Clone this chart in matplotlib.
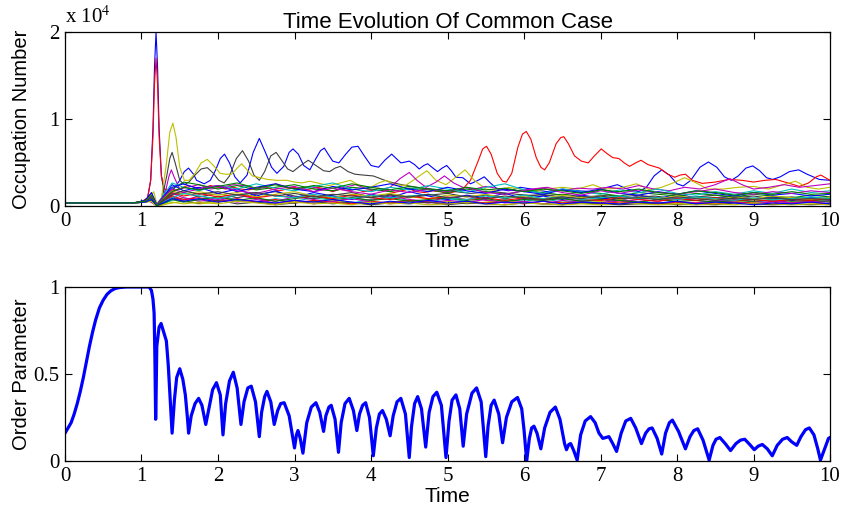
import matplotlib
matplotlib.use('Agg')
import matplotlib.pyplot as plt

plt.rcParams['mathtext.fontset'] = 'stix'

# MATLAB default line colours
MCOL = {'b': (0, 0, 1), 'g': (0, 0.5, 0), 'r': (1, 0, 0), 'c': (0, 0.75, 0.75),
        'm': (0.75, 0, 0.75), 'y': (0.75, 0.75, 0), 'k': (0.25, 0.25, 0.25)}

# ---------------- top panel: occupation numbers (units of 1e4) ----------------
blue_t = [0, 0.9, 1.0, 1.08, 1.12, 1.15, 1.17, 1.19, 1.21, 1.23, 1.26, 1.3, 1.35, 1.42, 1.5, 1.56,
          1.615, 1.68, 1.72, 1.82, 1.9, 1.97, 2.03, 2.085, 2.15, 2.22, 2.29, 2.38, 2.46, 2.54, 2.62,
          2.7, 2.77, 2.86, 2.93, 2.98, 3.05, 3.12, 3.2, 3.28, 3.34, 3.39, 3.44, 3.5, 3.58, 3.67,
          3.75, 3.83, 3.92, 4.0, 4.1, 4.18, 4.27, 4.33, 4.39, 4.45, 4.5, 4.57, 4.63, 4.69, 4.74,
          4.81, 4.87, 4.93, 4.99, 5.05, 5.11, 5.2, 5.3, 5.4, 5.48, 5.56, 5.65, 5.8, 5.95, 6.1, 6.3,
          6.5, 6.7, 6.9, 7.05, 7.22, 7.35, 7.5, 7.6, 7.7, 7.8, 7.9, 8.0, 8.08, 8.18, 8.3, 8.41,
          8.52, 8.62, 8.71, 8.8, 8.9, 8.99, 9.08, 9.17, 9.25, 9.35, 9.47, 9.59, 9.7, 9.86, 10.0]
blue_v = [0.04, 0.042, 0.05, 0.1, 0.3, 0.9, 1.6, 2.0, 1.6, 0.9, 0.35, 0.15, 0.12, 0.2, 0.3, 0.4,
          0.44, 0.37, 0.3, 0.26, 0.3, 0.42, 0.55, 0.6, 0.5, 0.34, 0.27, 0.36, 0.62, 0.78, 0.62,
          0.45, 0.38, 0.46, 0.62, 0.66, 0.6, 0.47, 0.42, 0.55, 0.64, 0.67, 0.6, 0.52, 0.5, 0.6,
          0.68, 0.69, 0.57, 0.47, 0.45, 0.53, 0.6, 0.55, 0.5, 0.51, 0.52, 0.48, 0.43, 0.47, 0.49,
          0.44, 0.4, 0.44, 0.47, 0.41, 0.335, 0.33, 0.26, 0.3, 0.34, 0.27, 0.2, 0.18, 0.22, 0.2, 0.17,
          0.2, 0.18, 0.17, 0.21, 0.25, 0.2, 0.17, 0.22, 0.35, 0.42, 0.36, 0.26, 0.235, 0.3, 0.45, 0.51,
          0.45, 0.34, 0.3, 0.35, 0.44, 0.465, 0.41, 0.33, 0.31, 0.34, 0.4, 0.42, 0.37, 0.31, 0.3]

red_t = [0, 0.9, 1.0, 1.08, 1.12, 1.15, 1.17, 1.19, 1.21, 1.23, 1.26, 1.3, 1.4, 1.5, 1.6, 1.7,
         1.8, 1.9, 2.0, 2.1, 2.2, 2.3, 2.4, 2.5, 2.6, 2.7, 2.8, 2.9, 3.0, 3.1, 3.2, 3.3, 3.4, 3.5,
         3.6, 3.7, 3.8, 3.9, 4.0, 4.1, 4.2, 4.3, 4.4, 4.5, 4.6, 4.7, 4.8, 4.9, 5.0, 5.1, 5.2, 5.3,
         5.4, 5.46, 5.51, 5.57, 5.65, 5.72, 5.77, 5.84, 5.92, 5.98, 6.03, 6.09, 6.16, 6.22, 6.27,
         6.33, 6.42, 6.48, 6.52, 6.58, 6.66, 6.75, 6.84, 6.92, 7.01, 7.08, 7.16, 7.24, 7.31, 7.38,
         7.46, 7.53, 7.62, 7.77, 7.88, 7.97, 8.04, 8.11, 8.2, 8.33, 8.5, 8.68, 8.85, 9.0, 9.15,
         9.29, 9.45, 9.6, 9.72, 9.82, 9.88, 9.94, 10.0]
red_v = [0.04, 0.042, 0.05, 0.1, 0.3, 0.8, 1.4, 1.7, 1.4, 0.8, 0.35, 0.2, 0.18, 0.2, 0.24, 0.22,
         0.21, 0.24, 0.22, 0.2, 0.22, 0.2, 0.19, 0.21, 0.23, 0.2, 0.18, 0.2, 0.22, 0.19, 0.2, 0.22,
         0.2, 0.17, 0.2, 0.18, 0.2, 0.17, 0.18, 0.21, 0.18, 0.16, 0.18, 0.2, 0.17, 0.16, 0.18, 0.17,
         0.15, 0.17, 0.2, 0.3, 0.52, 0.66, 0.69, 0.6, 0.38, 0.29, 0.28, 0.38, 0.68, 0.83, 0.86, 0.77,
         0.56, 0.45, 0.42, 0.5, 0.72, 0.79, 0.8, 0.72, 0.58, 0.52, 0.5, 0.58, 0.66, 0.61, 0.56, 0.55,
         0.5, 0.46, 0.5, 0.53, 0.48, 0.44, 0.37, 0.335, 0.36, 0.37, 0.3, 0.265, 0.28, 0.31, 0.3, 0.28,
         0.3, 0.31, 0.27, 0.23, 0.27, 0.34, 0.36, 0.33, 0.3]

black_t = [0, 0.9, 1.05, 1.15, 1.2, 1.27, 1.33, 1.37, 1.4, 1.44, 1.5, 1.56, 1.62, 1.7, 1.78, 1.86,
           1.94, 2.01, 2.08, 2.15, 2.24, 2.32, 2.4, 2.47, 2.54, 2.61, 2.69, 2.76, 2.84, 2.91, 2.98,
           3.08, 3.18, 3.28, 3.38, 3.46, 3.53, 3.6, 3.7, 3.79, 3.9, 4.03, 4.15, 4.25, 4.4, 4.6, 4.8,
           5.0, 5.3, 5.6, 5.9, 6.2, 6.5, 6.8, 7.1, 7.4, 7.7, 8.0, 8.3, 8.6, 8.9, 9.2, 9.5, 9.8, 10.0]
black_v = [0.04, 0.042, 0.05, 0.1, 0.02, 0.1, 0.35, 0.55, 0.62, 0.5, 0.3, 0.25, 0.28, 0.36, 0.43, 0.445,
           0.38, 0.3, 0.27, 0.35, 0.55, 0.64, 0.52, 0.36, 0.3, 0.4, 0.58, 0.62, 0.52, 0.43, 0.4,
           0.47, 0.53, 0.47, 0.41, 0.4, 0.44, 0.46, 0.4, 0.37, 0.36, 0.35, 0.31, 0.28, 0.25, 0.22, 0.2,
           0.18, 0.15, 0.17, 0.14, 0.12, 0.14, 0.11, 0.13, 0.1, 0.12, 0.09, 0.11, 0.1, 0.08, 0.1, 0.09, 0.1, 0.09]

yellow_t = [0, 0.9, 1.05, 1.12, 1.16, 1.2, 1.26, 1.32, 1.37, 1.41, 1.45, 1.5, 1.56, 1.62, 1.7, 1.78,
            1.86, 1.94, 2.03, 2.1, 2.18, 2.25, 2.31, 2.38, 2.45, 2.55, 2.65, 2.77, 2.9, 3.0, 3.1, 3.2,
            3.3, 3.45, 3.6, 3.73, 3.85, 4.0, 4.1, 4.2, 4.3, 4.45, 4.6, 4.73, 4.85, 4.98, 5.1, 5.23,
            5.35, 5.5, 5.65, 5.8, 5.95, 6.1, 6.3, 6.5, 6.7, 6.9, 7.05, 7.25, 7.47, 7.65, 7.8, 7.95,
            8.1, 8.25, 8.4, 8.6, 8.8, 9.0, 9.2, 9.35, 9.55, 9.7, 9.85, 10.0]
yellow_v = [0.04, 0.042, 0.06, 0.12, 0.17, 0.03, 0.1, 0.45, 0.85, 0.955, 0.8, 0.45, 0.3, 0.3, 0.38, 0.5,
            0.54, 0.47, 0.38, 0.37, 0.37, 0.44, 0.49, 0.42, 0.35, 0.33, 0.31, 0.3, 0.3, 0.28, 0.27, 0.29,
            0.27, 0.24, 0.27, 0.3, 0.24, 0.22, 0.27, 0.3, 0.25, 0.24, 0.33, 0.41, 0.3, 0.25, 0.33, 0.42,
            0.3, 0.2, 0.18, 0.22, 0.2, 0.17, 0.2, 0.22, 0.2, 0.25, 0.2, 0.21, 0.26, 0.19, 0.22, 0.27,
            0.33, 0.27, 0.2, 0.2, 0.22, 0.23, 0.2, 0.24, 0.29, 0.22, 0.2, 0.22]

magenta_t = [0, 0.9, 1.1, 1.2, 1.3, 1.36, 1.39, 1.43, 1.5, 1.6, 1.75, 1.9, 2.05, 2.2, 2.35, 2.5,
             2.62, 2.76, 2.9, 3.05, 3.2, 3.35, 3.5, 3.65, 3.8, 3.95, 4.1, 4.25, 4.38, 4.5, 4.6, 4.72,
             4.85, 4.96, 5.08, 5.2, 5.35, 5.5, 5.7, 5.9, 6.1, 6.3, 6.5, 6.7, 6.9, 7.1, 7.3, 7.5, 7.7,
             7.9, 8.1, 8.3, 8.5, 8.69, 8.85, 9.0, 9.2, 9.4, 9.6, 9.8, 10.0]
magenta_v = [0.04, 0.042, 0.06, 0.01, 0.12, 0.35, 0.42, 0.33, 0.2, 0.22, 0.25, 0.2, 0.22, 0.25, 0.24, 0.2,
             0.22, 0.26, 0.22, 0.2, 0.23, 0.2, 0.18, 0.22, 0.25, 0.2, 0.18, 0.22, 0.32, 0.39, 0.3, 0.22,
             0.28, 0.35, 0.27, 0.22, 0.2, 0.23, 0.2, 0.18, 0.2, 0.22, 0.18, 0.21, 0.2, 0.22, 0.2, 0.24, 0.2,
             0.18, 0.22, 0.2, 0.25, 0.32, 0.25, 0.2, 0.22, 0.25, 0.22, 0.24, 0.26]

# the dense crowd of low modes, sampled on a common time grid
crowd_t = [0, 0.9, 1.05, 1.13, 1.2, 1.28, 1.4, 1.55, 1.75, 2.0, 2.25, 2.5, 2.75, 3.0, 3.25, 3.5,
           3.75, 4.0, 4.25, 4.5, 4.75, 5.0, 5.25, 5.5, 5.75, 6.0, 6.25, 6.5, 6.75, 7.0, 7.25, 7.5,
           7.75, 8.0, 8.25, 8.5, 8.75, 9.0, 9.25, 9.5, 9.75, 10.0]
crowd_colors = ['c', 'm', 'y', 'k', 'b', 'g', 'r', 'c', 'm', 'y', 'k',
                'b', 'g', 'r', 'c', 'm', 'y', 'k', 'b', 'g']
crowd_v = [
    [0.04, 0.042, 0.05, 0.07, 0.0, 0.03, 0.07, 0.1, 0.07, 0.12, 0.08, 0.05, 0.09, 0.06, 0.1, 0.07, 0.04, 0.08, 0.11, 0.07, 0.05, 0.09, 0.06, 0.04, 0.08, 0.06, 0.09, 0.05, 0.07, 0.04, 0.07, 0.05, 0.08, 0.05, 0.03, 0.06, 0.08, 0.05, 0.07, 0.04, 0.06, 0.05],
    [0.04, 0.042, 0.05, 0.08, 0.01, 0.04, 0.11, 0.07, 0.12, 0.08, 0.13, 0.09, 0.06, 0.11, 0.08, 0.05, 0.1, 0.07, 0.12, 0.08, 0.06, 0.1, 0.12, 0.07, 0.05, 0.09, 0.07, 0.1, 0.06, 0.08, 0.05, 0.08, 0.06, 0.1, 0.07, 0.05, 0.08, 0.06, 0.04, 0.07, 0.05, 0.07],
    [0.04, 0.042, 0.05, 0.06, 0.0, 0.02, 0.04, 0.06, 0.03, 0.05, 0.08, 0.05, 0.03, 0.06, 0.04, 0.07, 0.04, 0.02, 0.05, 0.07, 0.04, 0.06, 0.03, 0.05, 0.07, 0.04, 0.03, 0.05, 0.04, 0.06, 0.03, 0.05, 0.04, 0.03, 0.05, 0.04, 0.06, 0.04, 0.03, 0.05, 0.04, 0.03],
    [0.04, 0.042, 0.06, 0.09, 0.01, 0.05, 0.13, 0.16, 0.11, 0.15, 0.1, 0.14, 0.17, 0.12, 0.09, 0.13, 0.16, 0.11, 0.14, 0.1, 0.13, 0.15, 0.11, 0.13, 0.09, 0.12, 0.14, 0.1, 0.12, 0.09, 0.11, 0.13, 0.1, 0.08, 0.11, 0.13, 0.1, 0.12, 0.09, 0.11, 0.08, 0.1],
    [0.04, 0.042, 0.06, 0.15, 0.02, 0.1, 0.25, 0.18, 0.22, 0.15, 0.2, 0.12, 0.18, 0.1, 0.16, 0.12, 0.08, 0.14, 0.1, 0.17, 0.12, 0.08, 0.13, 0.1, 0.15, 0.09, 0.12, 0.08, 0.13, 0.1, 0.07, 0.12, 0.09, 0.14, 0.1, 0.08, 0.12, 0.09, 0.11, 0.07, 0.1, 0.08],
    [0.04, 0.042, 0.07, 0.12, 0.01, 0.08, 0.2, 0.28, 0.25, 0.2, 0.24, 0.19, 0.22, 0.25, 0.2, 0.18, 0.22, 0.2, 0.17, 0.21, 0.19, 0.16, 0.2, 0.17, 0.14, 0.18, 0.16, 0.13, 0.17, 0.15, 0.12, 0.16, 0.14, 0.12, 0.15, 0.13, 0.11, 0.14, 0.12, 0.1, 0.13, 0.11],
    [0.04, 0.042, 0.05, 0.09, 0.01, 0.06, 0.12, 0.08, 0.1, 0.06, 0.09, 0.05, 0.08, 0.04, 0.07, 0.05, 0.03, 0.06, 0.04, 0.07, 0.05, 0.03, 0.06, 0.04, 0.05, 0.03, 0.06, 0.04, 0.05, 0.03, 0.05, 0.04, 0.03, 0.05, 0.04, 0.03, 0.05, 0.04, 0.03, 0.04, 0.05, 0.03],
    [0.04, 0.042, 0.06, 0.13, 0.02, 0.12, 0.27, 0.22, 0.18, 0.24, 0.2, 0.26, 0.21, 0.18, 0.23, 0.27, 0.2, 0.17, 0.22, 0.19, 0.24, 0.2, 0.16, 0.22, 0.26, 0.19, 0.15, 0.2, 0.17, 0.14, 0.19, 0.16, 0.2, 0.15, 0.13, 0.17, 0.14, 0.18, 0.15, 0.2, 0.16, 0.18],
    [0.04, 0.042, 0.05, 0.1, 0.01, 0.05, 0.15, 0.1, 0.06, 0.09, 0.05, 0.08, 0.04, 0.07, 0.03, 0.06, 0.09, 0.05, 0.03, 0.06, 0.04, 0.07, 0.05, 0.08, 0.04, 0.06, 0.03, 0.07, 0.05, 0.04, 0.08, 0.05, 0.03, 0.06, 0.04, 0.07, 0.05, 0.03, 0.06, 0.04, 0.06, 0.05],
    [0.04, 0.042, 0.06, 0.14, 0.02, 0.09, 0.18, 0.14, 0.17, 0.13, 0.16, 0.11, 0.14, 0.17, 0.12, 0.1, 0.14, 0.12, 0.15, 0.11, 0.09, 0.13, 0.11, 0.14, 0.1, 0.12, 0.09, 0.13, 0.1, 0.12, 0.08, 0.11, 0.09, 0.12, 0.1, 0.08, 0.11, 0.09, 0.12, 0.1, 0.08, 0.1],
    [0.04, 0.042, 0.05, 0.08, 0.01, 0.04, 0.1, 0.06, 0.04, 0.07, 0.03, 0.05, 0.02, 0.04, 0.06, 0.03, 0.05, 0.02, 0.04, 0.03, 0.05, 0.02, 0.04, 0.03, 0.02, 0.04, 0.03, 0.02, 0.04, 0.03, 0.02, 0.03, 0.04, 0.02, 0.03, 0.02, 0.04, 0.03, 0.02, 0.03, 0.02, 0.03],
    [0.04, 0.042, 0.07, 0.16, 0.02, 0.11, 0.22, 0.26, 0.2, 0.24, 0.17, 0.22, 0.26, 0.2, 0.17, 0.23, 0.19, 0.22, 0.26, 0.2, 0.17, 0.22, 0.18, 0.15, 0.2, 0.17, 0.14, 0.19, 0.16, 0.2, 0.15, 0.13, 0.17, 0.14, 0.18, 0.15, 0.12, 0.16, 0.13, 0.15, 0.12, 0.14],
    [0.04, 0.042, 0.05, 0.07, 0.0, 0.03, 0.08, 0.05, 0.08, 0.11, 0.07, 0.1, 0.06, 0.09, 0.12, 0.08, 0.1, 0.07, 0.09, 0.06, 0.08, 0.1, 0.07, 0.09, 0.06, 0.08, 0.07, 0.09, 0.06, 0.08, 0.07, 0.05, 0.08, 0.06, 0.07, 0.05, 0.07, 0.06, 0.08, 0.06, 0.07, 0.06],
    [0.04, 0.042, 0.06, 0.12, 0.01, 0.07, 0.16, 0.12, 0.15, 0.11, 0.14, 0.1, 0.13, 0.1, 0.12, 0.09, 0.13, 0.1, 0.08, 0.12, 0.09, 0.11, 0.08, 0.1, 0.07, 0.1, 0.08, 0.11, 0.08, 0.07, 0.1, 0.08, 0.06, 0.09, 0.07, 0.1, 0.07, 0.08, 0.06, 0.08, 0.07, 0.09],
    [0.04, 0.042, 0.05, 0.09, 0.01, 0.05, 0.1, 0.15, 0.12, 0.09, 0.13, 0.16, 0.12, 0.1, 0.14, 0.11, 0.09, 0.13, 0.1, 0.12, 0.14, 0.1, 0.08, 0.12, 0.1, 0.13, 0.09, 0.11, 0.08, 0.1, 0.12, 0.09, 0.1, 0.08, 0.11, 0.09, 0.07, 0.1, 0.08, 0.09, 0.11, 0.09],
    [0.04, 0.042, 0.06, 0.11, 0.02, 0.1, 0.2, 0.16, 0.2, 0.24, 0.18, 0.15, 0.2, 0.23, 0.17, 0.21, 0.17, 0.14, 0.19, 0.16, 0.2, 0.17, 0.22, 0.16, 0.14, 0.18, 0.21, 0.16, 0.13, 0.18, 0.15, 0.19, 0.16, 0.14, 0.17, 0.2, 0.16, 0.14, 0.17, 0.15, 0.18, 0.16],
    [0.04, 0.042, 0.05, 0.06, 0.0, 0.02, 0.05, 0.03, 0.05, 0.03, 0.06, 0.04, 0.02, 0.05, 0.03, 0.04, 0.02, 0.05, 0.03, 0.04, 0.02, 0.03, 0.05, 0.03, 0.02, 0.04, 0.03, 0.02, 0.03, 0.02, 0.04, 0.03, 0.02, 0.03, 0.02, 0.03, 0.02, 0.04, 0.03, 0.02, 0.03, 0.02],
    [0.04, 0.042, 0.06, 0.1, 0.01, 0.06, 0.14, 0.18, 0.14, 0.17, 0.13, 0.16, 0.12, 0.15, 0.11, 0.14, 0.12, 0.1, 0.13, 0.11, 0.14, 0.1, 0.12, 0.09, 0.12, 0.1, 0.08, 0.11, 0.09, 0.12, 0.09, 0.1, 0.08, 0.11, 0.09, 0.07, 0.1, 0.08, 0.1, 0.08, 0.09, 0.08],
    [0.04, 0.042, 0.05, 0.08, 0.01, 0.04, 0.09, 0.06, 0.09, 0.05, 0.08, 0.06, 0.04, 0.07, 0.05, 0.08, 0.05, 0.03, 0.06, 0.04, 0.07, 0.04, 0.06, 0.03, 0.05, 0.04, 0.06, 0.03, 0.05, 0.04, 0.03, 0.05, 0.04, 0.06, 0.03, 0.05, 0.04, 0.02, 0.04, 0.03, 0.05, 0.03],
    [0.04, 0.042, 0.06, 0.13, 0.01, 0.08, 0.17, 0.22, 0.19, 0.23, 0.27, 0.21, 0.25, 0.2, 0.24, 0.21, 0.26, 0.22, 0.19, 0.23, 0.2, 0.18, 0.22, 0.19, 0.21, 0.17, 0.2, 0.18, 0.15, 0.19, 0.17, 0.2, 0.16, 0.14, 0.18, 0.16, 0.13, 0.16, 0.14, 0.17, 0.14, 0.15],
]

# ---------------- bottom panel: order parameter ----------------
order_t = [0, 0.04, 0.08, 0.12, 0.16, 0.2, 0.24, 0.28, 0.32, 0.36, 0.4, 0.45, 0.5, 0.55, 0.6, 0.65,
           0.7, 0.8, 0.9, 1.0, 1.1, 1.13, 1.15, 1.165, 1.175, 1.185, 1.19, 1.2, 1.23, 1.256, 1.29,
           1.325, 1.35, 1.375, 1.40, 1.43, 1.46, 1.50, 1.54, 1.573, 1.60, 1.616, 1.65, 1.70, 1.747,
           1.79, 1.84, 1.88, 1.93, 1.98, 2.03, 2.065, 2.10, 2.15, 2.20, 2.25, 2.30, 2.34, 2.39, 2.435,
           2.49, 2.54, 2.57, 2.61, 2.64, 2.69, 2.735, 2.78, 2.82, 2.865, 2.93, 3.0, 3.025, 3.045,
           3.075, 3.11, 3.16, 3.22, 3.28, 3.33, 3.38, 3.41, 3.45, 3.48, 3.53, 3.575, 3.61, 3.66,
           3.715, 3.77, 3.815, 3.85, 3.89, 3.93, 3.98, 4.03, 4.07, 4.11, 4.15, 4.20, 4.25, 4.29,
           4.34, 4.39, 4.45, 4.50, 4.53, 4.57, 4.61, 4.66, 4.715, 4.76, 4.81, 4.86, 4.92, 4.98,
           5.02, 5.06, 5.11, 5.16, 5.205, 5.25, 5.32, 5.38, 5.44, 5.50, 5.53, 5.57, 5.61, 5.67,
           5.72, 5.77, 5.84, 5.915, 5.97, 6.0, 6.035, 6.07, 6.10, 6.13, 6.17, 6.22, 6.27, 6.34,
           6.41, 6.47, 6.53, 6.555, 6.585, 6.61, 6.65, 6.695, 6.74, 6.80, 6.87, 6.93, 6.98, 7.03,
           7.07, 7.11, 7.16, 7.21, 7.27, 7.33, 7.395, 7.46, 7.535, 7.59, 7.635, 7.675, 7.74, 7.80,
           7.85, 7.90, 7.94, 8.02, 8.11, 8.17, 8.22, 8.27, 8.34, 8.42, 8.47, 8.51, 8.56, 8.63, 8.70,
           8.77, 8.83, 8.885, 8.95, 9.01, 9.06, 9.115, 9.18, 9.245, 9.31, 9.38, 9.44, 9.50, 9.565,
           9.62, 9.68, 9.73, 9.79, 9.84, 9.875, 9.93, 9.98, 10.0]
order_v = [0.16, 0.19, 0.22, 0.27, 0.33, 0.40, 0.48, 0.57, 0.66, 0.74, 0.81, 0.88, 0.925, 0.958, 0.978, 0.99,
           0.996, 1.0, 1.0, 1.0, 1.0, 0.98, 0.93, 0.85, 0.6, 0.24, 0.35, 0.66, 0.77, 0.79, 0.74,
           0.69, 0.55, 0.35, 0.16, 0.35, 0.48, 0.53, 0.47, 0.38, 0.25, 0.16, 0.26, 0.33, 0.36,
           0.32, 0.21, 0.30, 0.41, 0.45, 0.38, 0.15, 0.33, 0.46, 0.51, 0.42, 0.21, 0.34, 0.42, 0.43,
           0.34, 0.14, 0.28, 0.37, 0.40, 0.34, 0.21, 0.29, 0.33, 0.335, 0.26, 0.075, 0.15, 0.175,
           0.13, 0.045, 0.22, 0.31, 0.335, 0.28, 0.17, 0.26, 0.31, 0.32, 0.24, 0.05, 0.22, 0.33,
           0.36, 0.29, 0.175, 0.27, 0.32, 0.335, 0.25, 0.03, 0.19, 0.27, 0.29, 0.24, 0.145, 0.26,
           0.34, 0.36, 0.27, 0.02, 0.2, 0.33, 0.37, 0.30, 0.08, 0.28, 0.37, 0.395, 0.32, 0.02,
           0.23, 0.35, 0.38, 0.30, 0.085, 0.27, 0.39, 0.42, 0.34, 0.025, 0.2, 0.32, 0.35, 0.27,
           0.105, 0.25, 0.34, 0.365, 0.30, 0.18, 0.0, 0.13, 0.19, 0.2, 0.16, 0.07, 0.19, 0.28,
           0.31, 0.24, 0.1, 0.065, 0.095, 0.10, 0.06, 0.005, 0.15, 0.23, 0.255, 0.22, 0.16, 0.13,
           0.135, 0.14, 0.1, 0.055, 0.16, 0.23, 0.245, 0.19, 0.10, 0.16, 0.185, 0.19, 0.13, 0.04,
           0.16, 0.22, 0.235, 0.17, 0.07, 0.14, 0.175, 0.185, 0.12, 0.005, 0.09, 0.125, 0.135, 0.1, 0.06,
           0.1, 0.12, 0.125, 0.095, 0.065, 0.085, 0.095, 0.07, 0.03, 0.09, 0.125, 0.135, 0.11, 0.09,
           0.14, 0.18, 0.19, 0.15, 0.07, 0.005, 0.07, 0.13, 0.135]

serif = 'Liberation Serif'
sans = 'Liberation Sans'

fig = plt.figure(figsize=(8.43, 5.12), dpi=100)
ax1 = fig.add_axes([0.0771, 0.5967, 0.9075, 0.3408])
ax2 = fig.add_axes([0.0771, 0.0996, 0.9075, 0.3399])

ax1.plot(blue_t, blue_v, color=MCOL['b'], lw=0.8)
ax1.plot(red_t, red_v, color=MCOL['r'], lw=0.8)
ax1.plot(black_t, black_v, color=MCOL['k'], lw=0.8)
ax1.plot(yellow_t, yellow_v, color=MCOL['y'], lw=0.8)
ax1.plot(magenta_t, magenta_v, color=MCOL['m'], lw=0.8)
for c, vals in zip(crowd_colors, crowd_v):
    ax1.plot(crowd_t, vals, color=MCOL[c], lw=0.8)

ax2.plot(order_t, order_v, color=MCOL['b'], lw=2.3)

for ax in (ax1, ax2):
    ax.set_xlim(0, 10)
    ax.set_xticks(range(11))
    ax.tick_params(direction='in', top=True, right=True, length=5, width=0.8, pad=4)
    for lab in ax.get_xticklabels():
        lab.set_fontfamily(serif)
        lab.set_fontsize(15)
    for s in ax.spines.values():
        s.set_linewidth(0.9)
    ax.set_xlabel('Time', fontfamily=sans, fontsize=15, labelpad=1)

ax1.set_ylim(0, 2)
ax1.set_yticks([0, 1, 2])
ax1.set_yticklabels(['0', '1', '2'], fontfamily=serif, fontsize=15)
ax1.set_ylabel('Occupation Number', fontfamily=sans, fontsize=14.5)
ax1.yaxis.set_label_coords(-0.044, 0.5)
ax1.set_title('Time Evolution Of Common Case', fontfamily=sans, fontsize=16, pad=3)
fig.text(0.0771, 0.945, r'x 10$^4$', fontfamily=serif, fontsize=15, ha='left', va='bottom')

ax2.set_ylim(0, 1)
ax2.set_yticks([0, 0.5, 1])
ax2.set_yticklabels(['0', '0.5', '1'], fontfamily=serif, fontsize=15)
ax2.set_ylabel('Order Parameter', fontfamily=sans, fontsize=14.5)
ax2.yaxis.set_label_coords(-0.044, 0.5)

fig.savefig('out.png', dpi=100)
